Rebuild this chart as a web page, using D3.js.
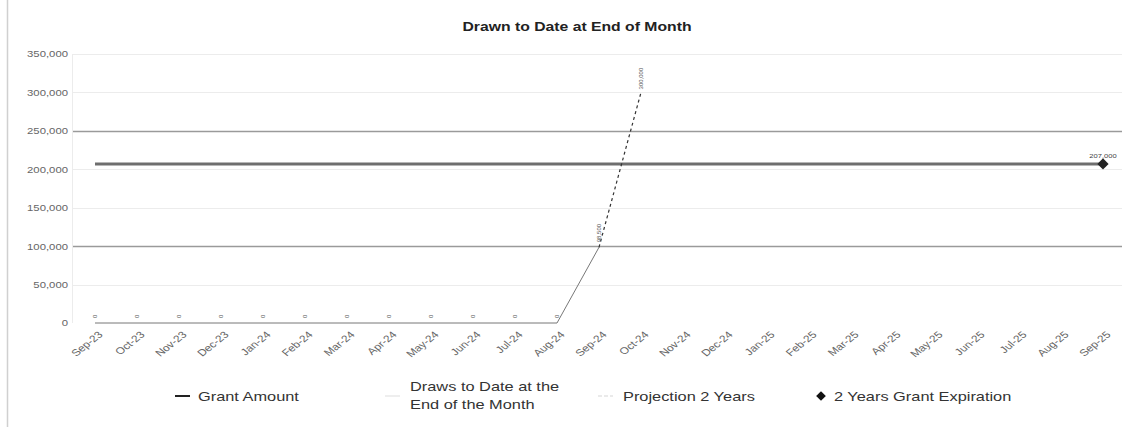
<!DOCTYPE html>
<html>
<head>
<meta charset="utf-8">
<script src="https://cdn.jsdelivr.net/npm/d3@7"></script>
<style>
  html, body { margin: 0; padding: 0; background: #fff; }
  svg { display: block; font-family: "Liberation Sans", Arial, sans-serif; }
</style>
</head>
<body>
<svg id="chart" width="1122" height="427"></svg>
<script>
// Months on the x axis
const months = ["Sep-23","Oct-23","Nov-23","Dec-23","Jan-24","Feb-24","Mar-24","Apr-24",
  "May-24","Jun-24","Jul-24","Aug-24","Sep-24","Oct-24","Nov-24","Dec-24","Jan-25",
  "Feb-25","Mar-25","Apr-25","May-25","Jun-25","Jul-25","Aug-25","Sep-25"];

// Grant amount, flat across the whole grant period
const grantAmount = months.map(() => 207000);

// Draws to date at the end of each month (recorded months only)
const drawMonths = ["Sep-23","Oct-23","Nov-23","Dec-23","Jan-24","Feb-24","Mar-24","Apr-24",
  "May-24","Jun-24","Jul-24","Aug-24","Sep-24"];
const drawValues = [0,0,0,0,0,0,0,0,0,0,0,0,98500];

// Two-year projection
const projMonths = ["Sep-24","Oct-24"];
const projValues = [98500, 300000];

// Grant expiration marker
const expMonth = "Sep-25";
const expValue = 207000;

const yTicks = [0,50000,100000,150000,200000,250000,300000,350000];

const svg = d3.select("#chart");
const plotLeft = 72, plotRight = 1122, plotTop = 54, plotBottom = 323;
// text is drawn with a wide horizontal stretch
const SX = 1.26;

const x = d3.scalePoint().domain(months).range([74, 1124]).padding(0.5);
const y = d3.scaleLinear().domain([0, 350000]).range([plotBottom, plotTop]);
const fmt = d3.format(",");

// helper: place stretched text at (px, py)
function wideText(sel, px, py, str) {
  return sel.append("text")
    .attr("transform", `translate(${px},${py}) scale(${SX},1)`)
    .text(str);
}

// outer frame line on the left
svg.append("line").attr("x1", 7.5).attr("x2", 7.5).attr("y1", 0).attr("y2", 427)
  .attr("stroke", "#d0d0d0").attr("stroke-width", 1.5);

// title
wideText(svg, 577, 31, "Drawn to Date at End of Month")
  .attr("text-anchor", "middle")
  .attr("font-size", 12.5).attr("font-weight", "bold").attr("fill", "#222");

// gridlines
const strongLines = new Set([100000, 250000]);
svg.append("g").selectAll("line").data(yTicks.filter(d => d > 0)).join("line")
  .attr("x1", plotLeft).attr("x2", plotRight)
  .attr("y1", d => Math.round(y(d)) + 0.5).attr("y2", d => Math.round(y(d)) + 0.5)
  .attr("stroke", d => strongLines.has(d) ? "#9a9a9a" : "#ececec")
  .attr("stroke-width", d => strongLines.has(d) ? 1.3 : 1);

// plot left border
svg.append("line").attr("x1", plotLeft + 0.5).attr("x2", plotLeft + 0.5)
  .attr("y1", plotTop).attr("y2", plotBottom)
  .attr("stroke", "#ececec");

// y axis
const yAxis = svg.append("g").attr("transform", `translate(${plotLeft - 4},0)`)
  .call(d3.axisLeft(y).tickValues(yTicks).tickFormat(fmt).tickSize(0).tickPadding(0));
yAxis.select(".domain").remove();
yAxis.selectAll("text").attr("font-size", 9).attr("fill", "#666")
  .attr("font-family", "\"Liberation Sans\", Arial, sans-serif")
  .attr("x", 0)
  .attr("transform", `scale(${SX},1)`);

// x axis labels
const xAxis = svg.append("g").attr("transform", `translate(0,${plotBottom})`)
  .call(d3.axisBottom(x).tickSize(0).tickPadding(0));
xAxis.select(".domain").remove();
xAxis.selectAll("text")
  .attr("font-size", 9.5).attr("fill", "#666")
  .attr("font-family", "\"Liberation Sans\", Arial, sans-serif")
  .attr("text-anchor", "end")
  .attr("y", 0)
  .attr("dy", "0.35em")
  .attr("transform", `translate(5,10) scale(${SX},1) rotate(-45)`);

// grant amount line
const line = d3.line().x(d => x(d[0])).y(d => y(d[1]));
svg.append("path").datum(months.map((m, i) => [m, grantAmount[i]]))
  .attr("d", line).attr("fill", "none").attr("stroke", "#6e6e6e").attr("stroke-width", 3);

// draws line
svg.append("path").datum(drawMonths.map((m, i) => [m, drawValues[i]]))
  .attr("d", line).attr("fill", "none").attr("stroke", "#777").attr("stroke-width", 1);

// projection line
svg.append("path").datum(projMonths.map((m, i) => [m, projValues[i]]))
  .attr("d", line).attr("fill", "none").attr("stroke", "#333")
  .attr("stroke-width", 1.2).attr("stroke-dasharray", "3,3");

// draws data labels
svg.append("g").selectAll("text").data(drawMonths.map((m, i) => [m, drawValues[i]])).join("text")
  .attr("transform", d => `translate(${x(d[0]) + 2},${y(d[1]) - 5}) rotate(-90)`)
  .attr("font-size", 6).attr("fill", "#555")
  .text(d => fmt(d[1]));

// projection data label (end point)
svg.append("g").selectAll("text").data([[projMonths[1], projValues[1]]]).join("text")
  .attr("transform", d => `translate(${x(d[0]) + 2},${y(d[1]) - 3}) rotate(-90)`)
  .attr("font-size", 6).attr("fill", "#555")
  .text(d => fmt(d[1]));

// expiration marker
svg.append("path")
  .attr("d", d3.symbol().type(d3.symbolDiamond2).size(80)())
  .attr("transform", `translate(${x(expMonth)},${y(expValue)})`)
  .attr("fill", "#222");
wideText(svg, x(expMonth), y(expValue) - 6, fmt(expValue))
  .attr("text-anchor", "middle").attr("font-size", 6).attr("fill", "#444");

// legend
const lg = svg.append("g").attr("font-size", 13).attr("fill", "#333");
lg.append("line").attr("x1", 175).attr("x2", 190).attr("y1", 396).attr("y2", 396)
  .attr("stroke", "#222").attr("stroke-width", 2);
wideText(lg, 198, 401, "Grant Amount");

lg.append("line").attr("x1", 385).attr("x2", 400).attr("y1", 396).attr("y2", 396)
  .attr("stroke", "#eee").attr("stroke-width", 2);
wideText(lg, 410, 391, "Draws to Date at the");
wideText(lg, 410, 409, "End of the Month");

lg.append("line").attr("x1", 598).attr("x2", 613).attr("y1", 396).attr("y2", 396)
  .attr("stroke", "#e4e4e4").attr("stroke-width", 1.5).attr("stroke-dasharray", "4,2");
wideText(lg, 623, 401, "Projection 2 Years");

lg.append("path").attr("d", d3.symbol().type(d3.symbolDiamond2).size(60)())
  .attr("transform", "translate(821,396)").attr("fill", "#111");
wideText(lg, 834, 401, "2 Years Grant Expiration");
</script>
</body>
</html>
